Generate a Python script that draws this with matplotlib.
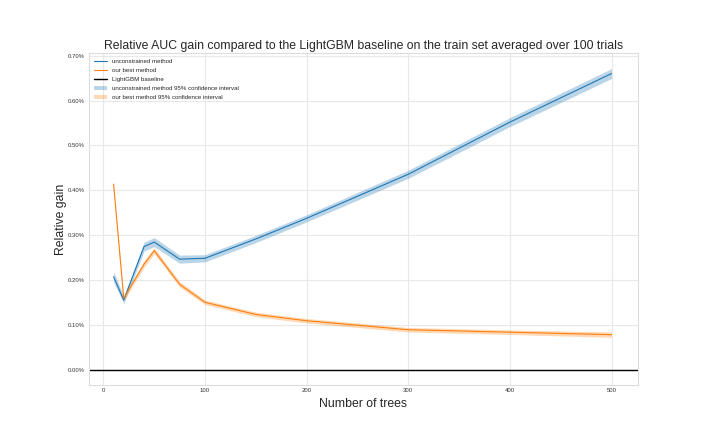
import numpy as np
import matplotlib
matplotlib.use("Agg")
import matplotlib.pyplot as plt
import seaborn as sns
from matplotlib.ticker import PercentFormatter

sns.set_style("whitegrid")
plt.rcParams['font.family'] = ['Liberation Sans', 'DejaVu Sans']

TITLE = "Relative AUC gain compared to the LightGBM baseline on the train set averaged over 100 trials"

# number of trees
n_trees = [10, 20, 40, 50, 75, 100, 150, 200, 300, 400, 500]

# relative gain in %
unconstrained = [0.208, 0.156, 0.275, 0.285, 0.247, 0.249, 0.292, 0.338, 0.436, 0.552, 0.660]
unconstrained_ci = [0.012, 0.008, 0.010, 0.010, 0.009, 0.008, 0.008, 0.008, 0.009, 0.010, 0.011]

best = [0.414, 0.160, 0.236, 0.266, 0.191, 0.151, 0.124, 0.110, 0.090, 0.0845, 0.079]
best_ci = [0.004, 0.006, 0.007, 0.007, 0.006, 0.005, 0.005, 0.005, 0.005, 0.005, 0.006]

x = np.array(n_trees)
y1 = np.array(unconstrained)
c1 = np.array(unconstrained_ci)
y2 = np.array(best)
c2 = np.array(best_ci)

fig = plt.figure(figsize=(7.06, 4.41), dpi=100)
ax = fig.add_axes([0.1256, 0.127, 0.778, 0.753])

ax.plot(x, y1, color="#1f77b4", lw=0.8, label="unconstrained method")
ax.plot(x, y2, color="#ff7f0e", lw=0.8, label="our best method")
ax.axhline(0, color="black", lw=1.0, label="LightGBM baseline")
ax.fill_between(x, y1 - c1, y1 + c1, color="#1f77b4", alpha=0.3, lw=0,
                label="unconstrained method 95% confidence interval")
ax.fill_between(x, y2 - c2, y2 + c2, color="#ff7f0e", alpha=0.3, lw=0,
                label="our best method 95% confidence interval")

ax.set_xlim(-14.5, 526)
ax.set_ylim(-0.033, 0.706)
ax.set_xticks([0, 100, 200, 300, 400, 500])
ax.set_yticks([0.0, 0.1, 0.2, 0.3, 0.4, 0.5, 0.6, 0.7])
ax.yaxis.set_major_formatter(PercentFormatter(xmax=100, decimals=2))
ax.tick_params(labelsize=4.3, colors="#333333", length=0, pad=2.5)
for s in ax.spines.values():
    s.set_color("#dddddd")
ax.grid(color="#e8e8e8", lw=0.8)

ax.legend(loc="upper left", fontsize=4.4, frameon=False, handlelength=2.0,
          labelspacing=0.6, borderaxespad=0.55)
ax.set_title(TITLE, fontsize=8.8, pad=3)
ax.set_xlabel("Number of trees", fontsize=8.8, labelpad=3.5)
ax.set_ylabel("Relative gain", fontsize=8.8, labelpad=1)

plt.savefig("out.png", dpi=100)
